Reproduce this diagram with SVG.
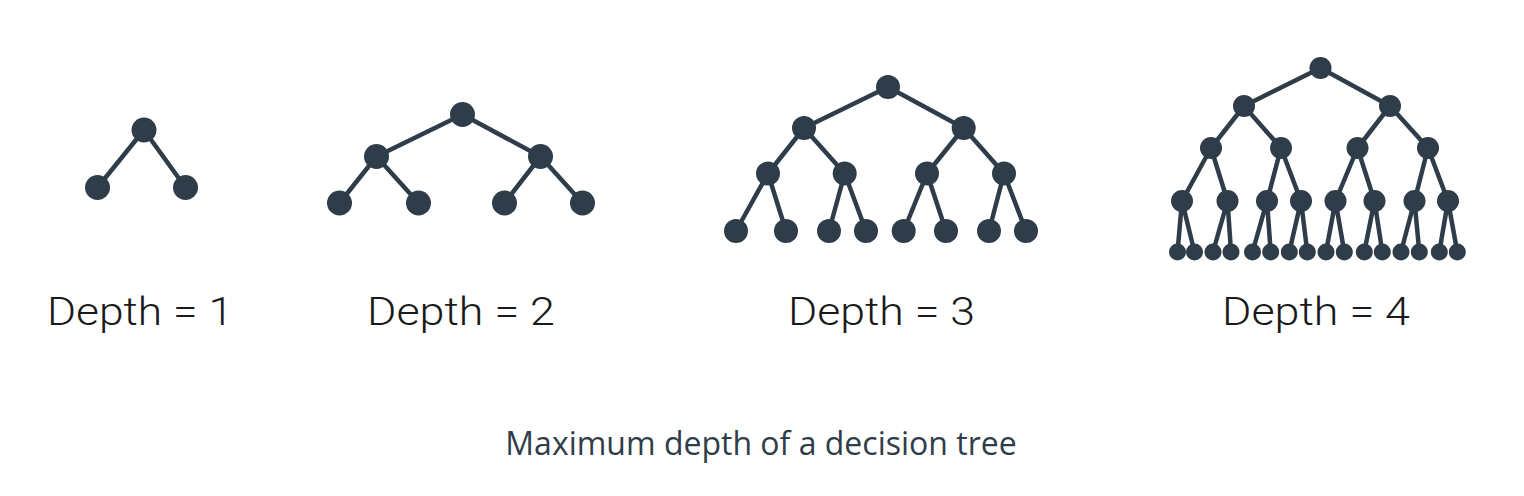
<svg xmlns="http://www.w3.org/2000/svg" width="1524" height="496" viewBox="0 0 1524 496">
<style>
.e{stroke:#2e3d49;stroke-width:4.5;fill:none}
.n{fill:#2e3d49}
.lbl{font-family:Roboto,"Liberation Sans",sans-serif;font-weight:300;font-size:38px;fill:#1a1a1a;text-anchor:middle}
.cap{font-family:"Open Sans","Liberation Sans",sans-serif;font-size:32px;fill:#2e3d49;text-anchor:middle}
</style>
<rect width="1524" height="496" fill="#fff"/>
<g id="connectors">
<!-- depth 1 -->
<path class="e" d="M144 130L97.5 187.5M144 130L185.5 187.5"/>
<!-- depth 2 -->
<path class="e" d="M462.5 114.5L376.5 156.5M462.5 114.5L540.5 156.5M376.5 156.5L339.5 203M376.5 156.5L418.5 203M540.5 156.5L504.5 203M540.5 156.5L582.5 203"/>
<!-- depth 3 -->
<path class="e" d="M888 87L804 128M888 87L963.7 128M804 128L768 173.5M804 128L844.7 173.5M963.7 128L927 173.5M963.7 128L1004 173.5M768 173.5L736 231M768 173.5L786 231M844.7 173.5L829 231M844.7 173.5L866 231M927 173.5L903.7 231M927 173.5L946 231M1004 173.5L989 231M1004 173.5L1026 231"/>
<!-- depth 4 -->
<path class="e" d="M1320.5 68L1244 106M1320.5 68L1390 106M1244 106L1211 148M1244 106L1281 148M1390 106L1357.5 148M1390 106L1428 148M1211 148L1182 201M1211 148L1227.5 201M1281 148L1267 201M1281 148L1301 201M1357.5 148L1335.5 201M1357.5 148L1374.5 201M1428 148L1414.5 201M1428 148L1448 201M1182 201L1177.5 252M1182 201L1194.5 252M1227.5 201L1213 252M1227.5 201L1231 252M1267 201L1252.5 252M1267 201L1270.7 252M1301 201L1289.3 252M1301 201L1307.3 252M1335.5 201L1326 252M1335.5 201L1344.3 252M1374.5 201L1364.3 252M1374.5 201L1382.3 252M1414.5 201L1401 252M1414.5 201L1419.3 252M1448 201L1439.3 252M1448 201L1457.3 252"/>
</g>
<g id="tree1">
<circle class="n" cx="144" cy="130" r="12.5"/>
<circle class="n" cx="97.5" cy="187.5" r="12.5"/>
<circle class="n" cx="185.5" cy="187.5" r="12.5"/>
</g>
<g id="tree2">
<circle class="n" cx="462.5" cy="114.5" r="12.5"/>
<circle class="n" cx="376.5" cy="156.5" r="12.5"/>
<circle class="n" cx="540.5" cy="156.5" r="12.5"/>
<circle class="n" cx="339.5" cy="203" r="12.5"/>
<circle class="n" cx="418.5" cy="203" r="12.5"/>
<circle class="n" cx="504.5" cy="203" r="12.5"/>
<circle class="n" cx="582.5" cy="203" r="12.5"/>
</g>
<g id="tree3">
<circle class="n" cx="888" cy="87" r="12"/>
<circle class="n" cx="804" cy="128" r="12"/>
<circle class="n" cx="963.7" cy="128" r="12"/>
<circle class="n" cx="768" cy="173.5" r="12"/>
<circle class="n" cx="844.7" cy="173.5" r="12"/>
<circle class="n" cx="927" cy="173.5" r="12"/>
<circle class="n" cx="1004" cy="173.5" r="12"/>
<circle class="n" cx="736" cy="231" r="12"/>
<circle class="n" cx="786" cy="231" r="12"/>
<circle class="n" cx="829" cy="231" r="12"/>
<circle class="n" cx="866" cy="231" r="12"/>
<circle class="n" cx="903.7" cy="231" r="12"/>
<circle class="n" cx="946" cy="231" r="12"/>
<circle class="n" cx="989" cy="231" r="12"/>
<circle class="n" cx="1026" cy="231" r="12"/>
</g>
<g id="tree4">
<circle class="n" cx="1320.5" cy="68" r="11"/>
<circle class="n" cx="1244" cy="106" r="11"/>
<circle class="n" cx="1390" cy="106" r="11"/>
<circle class="n" cx="1211" cy="148" r="11"/>
<circle class="n" cx="1281" cy="148" r="11"/>
<circle class="n" cx="1357.5" cy="148" r="11"/>
<circle class="n" cx="1428" cy="148" r="11"/>
<circle class="n" cx="1182" cy="201" r="11"/>
<circle class="n" cx="1227.5" cy="201" r="11"/>
<circle class="n" cx="1267" cy="201" r="11"/>
<circle class="n" cx="1301" cy="201" r="11"/>
<circle class="n" cx="1335.5" cy="201" r="11"/>
<circle class="n" cx="1374.5" cy="201" r="11"/>
<circle class="n" cx="1414.5" cy="201" r="11"/>
<circle class="n" cx="1448" cy="201" r="11"/>
<circle class="n" cx="1177.5" cy="252" r="8.5"/>
<circle class="n" cx="1194.5" cy="252" r="8.5"/>
<circle class="n" cx="1213" cy="252" r="8.5"/>
<circle class="n" cx="1231" cy="252" r="8.5"/>
<circle class="n" cx="1252.5" cy="252" r="8.5"/>
<circle class="n" cx="1270.7" cy="252" r="8.5"/>
<circle class="n" cx="1289.3" cy="252" r="8.5"/>
<circle class="n" cx="1307.3" cy="252" r="8.5"/>
<circle class="n" cx="1326" cy="252" r="8.5"/>
<circle class="n" cx="1344.3" cy="252" r="8.5"/>
<circle class="n" cx="1364.3" cy="252" r="8.5"/>
<circle class="n" cx="1382.3" cy="252" r="8.5"/>
<circle class="n" cx="1401" cy="252" r="8.5"/>
<circle class="n" cx="1419.3" cy="252" r="8.5"/>
<circle class="n" cx="1439.3" cy="252" r="8.5"/>
<circle class="n" cx="1457.3" cy="252" r="8.5"/>
</g>
<g id="labels">
<text class="lbl" x="140" y="325" textLength="186" lengthAdjust="spacingAndGlyphs">Depth = 1</text>
<text class="lbl" x="461" y="325" textLength="188" lengthAdjust="spacingAndGlyphs">Depth = 2</text>
<text class="lbl" x="881.5" y="325" textLength="187" lengthAdjust="spacingAndGlyphs">Depth = 3</text>
<text class="lbl" x="1316" y="325" textLength="188" lengthAdjust="spacingAndGlyphs">Depth = 4</text>
</g>
<g id="caption">
<text class="cap" x="761" y="455">Maximum depth of a decision tree</text>
</g>
</svg>
